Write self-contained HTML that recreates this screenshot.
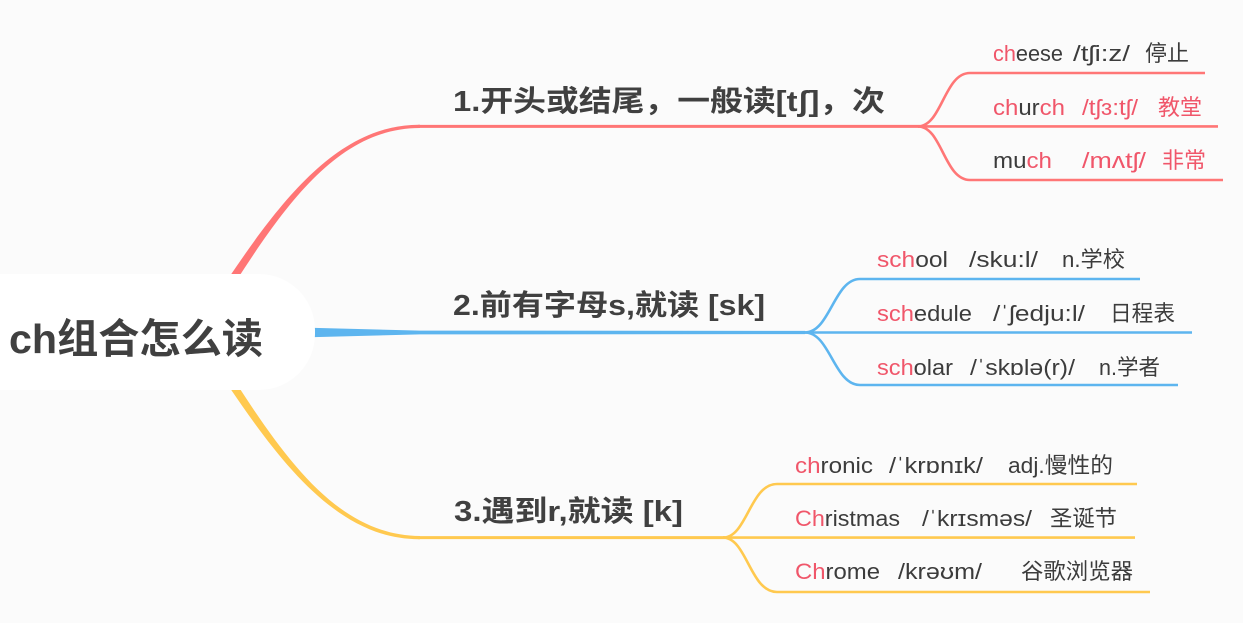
<!DOCTYPE html>
<html>
<head>
<meta charset="utf-8">
<style>
  html,body{margin:0;padding:0;background:#fbfbfb;}
  body{width:1243px;height:623px;overflow:hidden;}
  svg{display:block;}
  text{font-family:"Liberation Sans","Noto Sans CJK SC",sans-serif;}
  .main{font-weight:bold;font-size:29px;fill:#404040;}
  .sub{font-size:22px;fill:#3c3c3c;}
  .hl{fill:#f0566a;}
</style>
</head>
<body>
<svg width="1243" height="623" viewBox="0 0 1243 623" xmlns="http://www.w3.org/2000/svg">
  <rect x="0" y="0" width="1243" height="623" fill="#fbfbfb"/>

  <!-- red main branch (tapered) -->
  <path d="M235.3,282.2 C287.5,201.7 340,128 420,128 L420,124.8 C340,124 282.5,198.3 228.7,277.8 Z" fill="#ff7676"/>
  <line x1="418" y1="126.4" x2="920" y2="126.4" stroke="#ff7676" stroke-width="3"/>
  <!-- red children -->
  <path d="M918,126.4 C942,126.4 944,73 970,73 L1205,73" fill="none" stroke="#ff7676" stroke-width="2.6"/>
  <path d="M918,126.4 L1218,126.4" fill="none" stroke="#ff7676" stroke-width="2.6"/>
  <path d="M918,126.4 C942,126.4 944,180 970,180 L1223,180" fill="none" stroke="#ff7676" stroke-width="2.6"/>

  <!-- yellow main branch (tapered) -->
  <path d="M228.7,386.2 C282.5,465.7 340,540 420,539.2 L420,536 C340,535.5 287.5,462.3 235.3,381.8 Z" fill="#ffc94f"/>
  <line x1="418" y1="537.6" x2="725" y2="537.6" stroke="#ffc94f" stroke-width="3"/>
  <path d="M723,537.6 C747,537.6 750,484 777,484 L1137,484" fill="none" stroke="#ffc94f" stroke-width="2.6"/>
  <path d="M723,537.6 L1135,537.6" fill="none" stroke="#ffc94f" stroke-width="2.6"/>
  <path d="M723,537.6 C747,537.6 750,592 777,592 L1150,592" fill="none" stroke="#ffc94f" stroke-width="2.6"/>

  <!-- blue main branch (tapered) -->
  <path d="M300,327.5 L420,330.6 L805,330.9 L805,334.1 L420,334.4 L300,337.5 Z" fill="#5db5ef"/>
  <path d="M805,332.5 C830,332.5 834,279 860,279 L1140,279" fill="none" stroke="#5db5ef" stroke-width="2.6"/>
  <path d="M803,332.5 L1192,332.5" fill="none" stroke="#5db5ef" stroke-width="2.6"/>
  <path d="M805,332.5 C830,332.5 834,385 860,385 L1178,385" fill="none" stroke="#5db5ef" stroke-width="2.6"/>

  <!-- root node -->
  <rect x="-80" y="274" width="395" height="116" rx="56" ry="56" fill="#ffffff"/>
  <text x="9" y="353" font-size="41" font-weight="bold" fill="#404040" textLength="254" lengthAdjust="spacingAndGlyphs">ch组合怎么读</text>

  <!-- main labels -->
  <text class="main" x="453" y="111" textLength="432" lengthAdjust="spacingAndGlyphs">1.开头或结尾，一般读[tʃ]，次</text>
  <text class="main" x="453" y="315" textLength="312" lengthAdjust="spacingAndGlyphs">2.前有字母s,就读 [sk]</text>
  <text class="main" x="454" y="521" textLength="229" lengthAdjust="spacingAndGlyphs">3.遇到r,就读 [k]</text>

  <!-- red children text -->
  <text class="sub" x="993" y="61" textLength="70" lengthAdjust="spacingAndGlyphs"><tspan class="hl">ch</tspan>eese</text>
  <text class="sub" x="1073" y="61" textLength="57" lengthAdjust="spacingAndGlyphs">/tʃi:z/</text>
  <text class="sub" x="1145" y="61" textLength="44" lengthAdjust="spacingAndGlyphs">停止</text>

  <text class="sub" x="993" y="115" textLength="72" lengthAdjust="spacingAndGlyphs"><tspan class="hl">ch</tspan>ur<tspan class="hl">ch</tspan></text>
  <text class="sub hl" x="1082" y="115" textLength="56" lengthAdjust="spacingAndGlyphs">/tʃɜ:tʃ/</text>
  <text class="sub hl" x="1158" y="115" textLength="44" lengthAdjust="spacingAndGlyphs">教堂</text>

  <text class="sub" x="993" y="168" textLength="59" lengthAdjust="spacingAndGlyphs">mu<tspan class="hl">ch</tspan></text>
  <text class="sub hl" x="1082" y="168" textLength="64" lengthAdjust="spacingAndGlyphs">/mʌtʃ/</text>
  <text class="sub hl" x="1162" y="168" textLength="44" lengthAdjust="spacingAndGlyphs">非常</text>

  <!-- blue children text -->
  <text class="sub" x="877" y="267" textLength="71" lengthAdjust="spacingAndGlyphs"><tspan class="hl">sch</tspan>ool</text>
  <text class="sub" x="969" y="267" textLength="69" lengthAdjust="spacingAndGlyphs">/sku:l/</text>
  <text class="sub" x="1062" y="267" textLength="63" lengthAdjust="spacingAndGlyphs">n.学校</text>

  <text class="sub" x="877" y="321" textLength="95" lengthAdjust="spacingAndGlyphs"><tspan class="hl">sch</tspan>edule</text>
  <text class="sub" x="993" y="321" textLength="92" lengthAdjust="spacingAndGlyphs">/ˈʃedju:l/</text>
  <text class="sub" x="1110" y="321" textLength="65" lengthAdjust="spacingAndGlyphs">日程表</text>

  <text class="sub" x="877" y="375" textLength="76" lengthAdjust="spacingAndGlyphs"><tspan class="hl">sch</tspan>olar</text>
  <text class="sub" x="970" y="375" textLength="105" lengthAdjust="spacingAndGlyphs">/ˈskɒlə(r)/</text>
  <text class="sub" x="1099" y="375" textLength="61" lengthAdjust="spacingAndGlyphs">n.学者</text>

  <!-- yellow children text -->
  <text class="sub" x="795" y="473" textLength="78" lengthAdjust="spacingAndGlyphs"><tspan class="hl">ch</tspan>ronic</text>
  <text class="sub" x="889" y="473" textLength="94" lengthAdjust="spacingAndGlyphs">/ˈkrɒnɪk/</text>
  <text class="sub" x="1008" y="473" textLength="105" lengthAdjust="spacingAndGlyphs">adj.慢性的</text>

  <text class="sub" x="795" y="526" textLength="105" lengthAdjust="spacingAndGlyphs"><tspan class="hl">Ch</tspan>ristmas</text>
  <text class="sub" x="922" y="526" textLength="110" lengthAdjust="spacingAndGlyphs">/ˈkrɪsməs/</text>
  <text class="sub" x="1050" y="526" textLength="67" lengthAdjust="spacingAndGlyphs">圣诞节</text>

  <text class="sub" x="795" y="579" textLength="85" lengthAdjust="spacingAndGlyphs"><tspan class="hl">Ch</tspan>rome</text>
  <text class="sub" x="898" y="579" textLength="84" lengthAdjust="spacingAndGlyphs">/krəʊm/</text>
  <text class="sub" x="1021" y="579" textLength="112" lengthAdjust="spacingAndGlyphs">谷歌浏览器</text>
</svg>
</body>
</html>
